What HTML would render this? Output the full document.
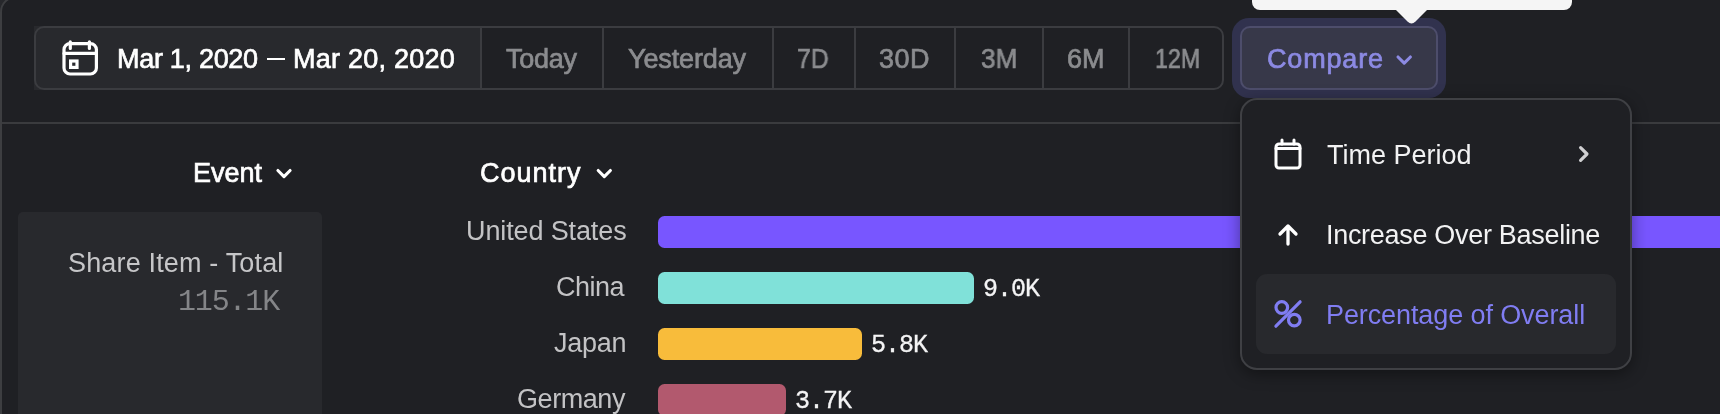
<!DOCTYPE html>
<html>
<head>
<meta charset="utf-8">
<title>Report</title>
<style>
html,body{margin:0;padding:0;}
body{width:1720px;height:414px;overflow:hidden;background:#27282c;position:relative;font-family:"Liberation Sans",sans-serif;color:#fff;}
.abs{position:absolute;}
.t{position:absolute;white-space:nowrap;line-height:1;font-size:27px;will-change:transform;}
.med{-webkit-text-stroke:0.7px currentColor;}
.mono{font-family:"Liberation Mono",monospace;}
#frame{left:0;top:-4px;width:1800px;height:600px;border:2px solid #3d3e41;border-radius:16px;box-sizing:border-box;background:#1f2024;}
#hr{left:2px;top:122px;width:1718px;height:2px;background:#3a3b3e;}
#dategroup{left:34px;top:26px;width:1190px;height:64px;box-sizing:border-box;border:2px solid #3b3c40;border-radius:10px;}
#datebtn{left:34px;top:26px;width:446px;height:64px;background:#28292d;}
.vd{position:absolute;top:28px;width:2px;height:60px;background:#3b3c40;}
.seg{color:#8b8c8f;}
#glow{left:1232px;top:18px;width:214px;height:80px;background:#31324e;border-radius:17px;}
#cmp{left:1240px;top:26px;width:198px;height:64px;box-sizing:border-box;border:2px solid #4d4d6b;border-radius:10px;background:#373849;}
#tip{left:1252px;top:-30px;width:320px;height:40px;background:#f5f5f5;border-radius:8px;}
#menu{left:1240px;top:98px;width:392px;height:272px;box-sizing:border-box;border:2px solid #3f4044;border-radius:17px;background:#1f2024;box-shadow:0 4px 16px rgba(0,0,0,.4);}
#hl{left:1256px;top:274px;width:360px;height:80px;border-radius:11px;background:#28292d;}
.mi{color:#f2f2f3;}
#card{left:18px;top:212px;width:304px;height:220px;border-radius:5px;background:#28292d;}
.lbl{color:#c3c3c5;}
.bar{position:absolute;left:658px;height:32px;border-radius:6.5px;}
.val{font-size:25px;letter-spacing:-1px;-webkit-text-stroke:0.3px currentColor;color:#f4f4f5;}
</style>
</head>
<body>
<div id="frame" class="abs"></div>
<div id="hr" class="abs"></div>

<!-- date group -->
<div id="datebtn" class="abs"></div>
<div id="dategroup" class="abs"></div>
<div class="vd" style="left:480px"></div>
<div class="vd" style="left:602px"></div>
<div class="vd" style="left:772px"></div>
<div class="vd" style="left:854px"></div>
<div class="vd" style="left:954px"></div>
<div class="vd" style="left:1042px"></div>
<div class="vd" style="left:1128px"></div>

<svg class="abs" style="left:60px;top:38px" width="40" height="40" viewBox="0 0 40 40" fill="none" stroke="#fff" stroke-width="3.2" stroke-linecap="round" stroke-linejoin="round">
  <rect x="4" y="5.6" width="32.4" height="30.4" rx="6"/>
  <path d="M4 15.4H36.4M10.3 3.8V10.4M29.4 3.8V10.4"/>
  <rect x="10.6" y="23" width="6.4" height="6.4" stroke-linejoin="miter"/>
</svg>
<div class="t med" id="d1" style="left:117px;top:46px;letter-spacing:-0.3px;color:#fff">Mar 1, 2020</div>
<div class="abs" id="dash" style="left:267px;top:57.5px;width:18.4px;height:2.6px;background:#fff"></div>
<div class="t med" id="d2" style="left:293px;top:46px;letter-spacing:0.25px;color:#fff">Mar 20, 2020</div>
<div class="t seg med" id="s1" style="left:506px;top:46px;letter-spacing:-0.25px;">Today</div>
<div class="t seg med" id="s2" style="left:628px;top:46px;letter-spacing:-0.13px;">Yesterday</div>
<div class="t seg med" id="s3" style="left:797px;top:46px;transform-origin:0 0;transform:scaleX(0.92);">7D</div>
<div class="t seg med" id="s4" style="left:879px;top:46px;letter-spacing:0.5px;">30D</div>
<div class="t seg med" id="s5" style="left:981px;top:46px;transform-origin:0 0;transform:scaleX(0.97);">3M</div>
<div class="t seg med" id="s6" style="left:1067px;top:46px;letter-spacing:0;">6M</div>
<div class="t seg med" id="s7" style="left:1154.6px;top:46px;transform-origin:0 0;transform:scaleX(0.86);">12M</div>

<!-- compare -->
<div id="glow" class="abs"></div>
<div id="cmp" class="abs"></div>
<div class="t med" id="cmptxt" style="left:1267px;top:46px;letter-spacing:0.83px;color:#8c8ae3">Compare</div>
<svg class="abs" style="left:1394px;top:50px" width="20" height="20" viewBox="0 0 20 20" fill="none" stroke="#8c8ae3" stroke-width="3.1" stroke-linecap="round" stroke-linejoin="round"><path d="M4 7L10.2 13.2L16.4 7"/></svg>

<!-- headers -->
<div class="t med" id="hevent" style="left:193px;top:160px;letter-spacing:0px;">Event</div>
<svg class="abs" style="left:274px;top:163px" width="20" height="20" viewBox="0 0 20 20" fill="none" stroke="#fff" stroke-width="3.1" stroke-linecap="round" stroke-linejoin="round"><path d="M3.9 7.5L10 13.7L16.1 7.5"/></svg>
<div class="t med" id="hcountry" style="left:480px;top:160px;letter-spacing:1.0px;">Country</div>
<svg class="abs" style="left:594px;top:163px" width="20" height="20" viewBox="0 0 20 20" fill="none" stroke="#fff" stroke-width="3.1" stroke-linecap="round" stroke-linejoin="round"><path d="M4.2 7.5L10.3 13.7L16.4 7.5"/></svg>

<!-- event card -->
<div id="card" class="abs"></div>
<div class="t" id="share" style="left:67.6px;top:250px;letter-spacing:0.16px;color:#c6c6c8">Share Item - Total</div>
<div class="t mono" id="total" style="left:177.8px;top:287px;font-size:30px;letter-spacing:-1.16px;color:#848588">115.1K</div>

<!-- rows -->
<div class="t lbl" id="l1" style="left:466px;top:218px;letter-spacing:-0.12px;">United States</div>
<div class="t lbl" id="l2" style="left:556px;top:274px;letter-spacing:-0.5px;">China</div>
<div class="t lbl" id="l3" style="left:554px;top:330px;letter-spacing:-0.25px;">Japan</div>
<div class="t lbl" id="l4" style="left:517px;top:386px;letter-spacing:-0.43px;">Germany</div>
<div class="bar" style="top:216px;width:1100px;background:#7856ff"></div>
<div class="bar" style="top:272px;width:316px;background:#80e1d9"></div>
<div class="bar" style="top:328px;width:204px;background:#f8bc3b"></div>
<div class="bar" style="top:384px;width:128px;background:#b2596e"></div>
<div class="t mono val" id="v2" style="left:982.6px;top:277px">9.0K</div>
<div class="t mono val" id="v3" style="left:870.6px;top:333px">5.8K</div>
<div class="t mono val" id="v4" style="left:794.6px;top:389px">3.7K</div>

<!-- dropdown menu -->
<div id="menu" class="abs"></div>
<div id="hl" class="abs"></div>
<svg class="abs" style="left:1272px;top:138px" width="32" height="32" viewBox="0 0 32 32" fill="none" stroke="#fff" stroke-width="3" stroke-linecap="round" stroke-linejoin="round">
  <rect x="4" y="6" width="24" height="24" rx="3"/>
  <path d="M4 10.4H28M10 2V6M22 2V6"/>
</svg>
<div class="t mi" id="m1" style="left:1327.4px;top:142px;letter-spacing:0;">Time Period</div>
<svg class="abs" style="left:1573px;top:144px" width="20" height="20" viewBox="0 0 20 20" fill="none" stroke="#d0d0d2" stroke-width="3.2" stroke-linecap="round" stroke-linejoin="round"><path d="M7.6 3.7L14 10L7.6 16.3"/></svg>
<svg class="abs" style="left:1272px;top:218px" width="32" height="32" viewBox="0 0 32 32" fill="none" stroke="#fff" stroke-width="3.3" stroke-linecap="round" stroke-linejoin="round">
  <path d="M16 26.1V8M8 16L16 8L24 16"/>
</svg>
<div class="t mi" id="m2" style="left:1325.6px;top:222px;letter-spacing:-0.3px;">Increase Over Baseline</div>
<svg class="abs" style="left:1272px;top:298px" width="32" height="32" viewBox="0 0 32 32" fill="none" stroke="#807df2" stroke-width="3.2" stroke-linecap="round" stroke-linejoin="round">
  <circle cx="9.8" cy="9.5" r="5.8"/><circle cx="22.3" cy="22.1" r="5.8"/><path d="M3.9 28.2L28.1 3.8"/>
</svg>
<div class="t mi" id="m3" style="left:1326px;top:302px;letter-spacing:-0.1px;color:#807df2">Percentage of Overall</div>

<!-- tooltip -->
<div id="tip" class="abs"></div>
<svg class="abs" style="left:1390px;top:9px" width="44" height="18" viewBox="0 0 44 18"><path d="M5 0H38L25.5 12.5Q21.5 16.5 17.5 12.5Z" fill="#f5f5f5"/></svg>
</body>
</html>
